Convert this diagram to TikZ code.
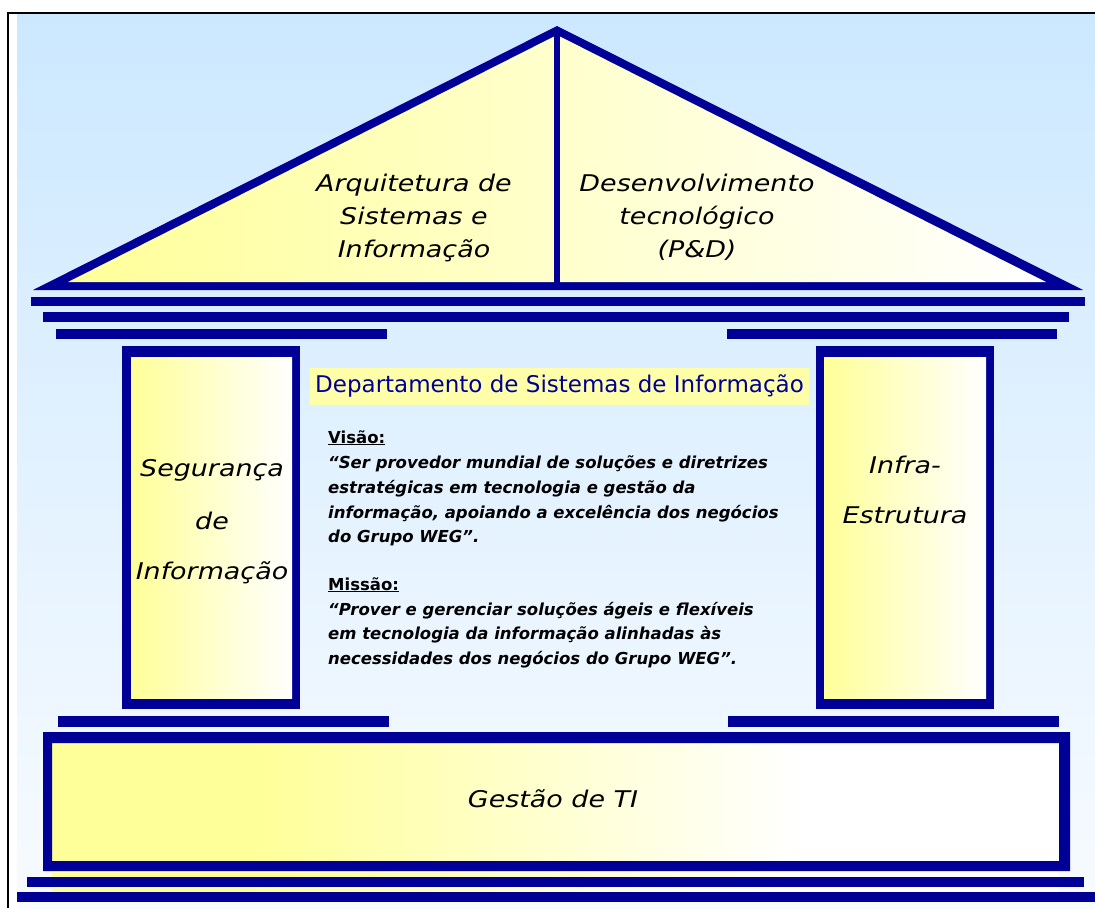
\documentclass[tikz,border=0pt]{standalone}
\usepackage{fontspec}
\setmainfont{DejaVu Sans}
\newfontfamily\lblfont[FakeStretch=1.17,ItalicFont={DejaVu Sans Oblique}]{DejaVu Sans}
\newfontfamily\txtfont[BoldFont={DejaVu Sans Bold},BoldItalicFont={DejaVu Sans Bold Oblique}]{DejaVu Sans}

\definecolor{navy}{RGB}{0,0,150}
\definecolor{pyel}{RGB}{255,255,153}
\definecolor{skytop}{RGB}{204,232,255}
\definecolor{skybot}{RGB}{248,251,255}
\definecolor{headbg}{RGB}{255,255,170}

% yellow-to-white fills of the roof and of the foundation
\pgfdeclarehorizontalshading{roofsh}{100bp}{color(0bp)=(pyel); color(25bp)=(pyel); color(75bp)=(white); color(100bp)=(white)}
\pgfdeclarehorizontalshading{basesh}{100bp}{color(0bp)=(pyel); color(35bp)=(pyel); color(62bp)=(white); color(100bp)=(white)}

\tikzset{
  beam/.style={fill=navy},
  pillarfill/.style={left color=pyel, right color=white},
  lbl/.style={font=\lblfont\itshape\fontsize{23}{28}\selectfont, inner sep=0pt, anchor=base},
  body/.style={font=\txtfont\bfseries\itshape\fontsize{16.5}{25}\selectfont, inner sep=0pt, anchor=base west},
  bodyhead/.style={font=\txtfont\bfseries\fontsize{16.5}{25}\selectfont, inner sep=0pt, anchor=base west},
}

\begin{document}
\begin{tikzpicture}[x=1pt,y=-1pt]
\useasboundingbox (0,0) rectangle (1095,908);

% sky behind the building
\shade[top color=skytop, bottom color=skybot] (17,14) rectangle (1095,908);
% frame
\draw[line width=2pt] (8,908) -- (8,13) -- (1095,13);

% roof
\fill[navy] (33,290) -- (557,26) -- (1083,290) -- cycle;
\shade[shading=roofsh] (68,282) -- (557,35) -- (1046,282) -- cycle;
\fill[navy] (554,30) rectangle (560,284);

% cornice
\path[beam] (31,297) rectangle (1085,306);
\path[beam] (43,312) rectangle (1069,322);
\path[beam] (56,329) rectangle (387,339);
\path[beam] (727,329) rectangle (1057,339);

% pillars
\path[beam] (122,346) rectangle (300,709);
\shade[pillarfill] (131,357) rectangle (292,698);
\path[beam] (816,346) rectangle (994,709);
\shade[pillarfill] (824,357) rectangle (986,698);

% plinths
\path[beam] (58,716) rectangle (389,727);
\path[beam] (728,716) rectangle (1059,727);

% foundation
\shade[shading=basesh] (52,743) rectangle (1059,893);
\fill[navy, even odd rule] (43,732) rectangle (1070,871) (52,743) rectangle (1059,861);
\path[beam] (27,877) rectangle (1084,887);
\path[beam] (17,892) rectangle (1095,902);

% roof labels
\node[lbl] (arq1) at (414,191) {Arquitetura de};
\node[lbl] (arq2) at (414,224) {Sistemas e};
\node[lbl] (arq3) at (414,257) {Informação};
\node[lbl] (des1) at (697,191) {Desenvolvimento};
\node[lbl] (des2) at (697,224) {tecnológico};
\node[lbl] (des3) at (697,257) {(P\&D)};

% pillar labels
\node[lbl] (seg1) at (212,476) {Segurança};
\node[lbl] (seg2) at (212,529) {de};
\node[lbl] (seg3) at (212,579) {Informação};
\node[lbl] (inf1) at (905,473) {Infra-};
\node[lbl] (inf2) at (905,523) {Estrutura};

% foundation label
\node[lbl] (gti) at (553,807) {Gestão de TI};

% department title
\node[fill=headbg, text=navy, inner sep=0pt, minimum width=499pt, minimum height=37pt,
      text height=17pt, text depth=5pt, font=\fontsize{23}{28}\selectfont] (dept) at (559.5,386.5)
      {Departamento de Sistemas de Informação};

% vision and mission
\node[bodyhead] (vis) at (328,443) {\underline{Visão:}};
\node[body] (vis1) at (328,468) {“Ser provedor mundial de soluções e diretrizes};
\node[body] (vis2) at (328,493) {estratégicas em tecnologia e gestão da};
\node[body] (vis3) at (328,518) {informação, apoiando a excelência dos negócios};
\node[body] (vis4) at (328,542) {do Grupo WEG”.};
\node[bodyhead] (mis) at (328,590) {\underline{Missão:}};
\node[body] (mis1) at (328,615) {“Prover e gerenciar soluções ágeis e flexíveis};
\node[body] (mis2) at (328,639) {em tecnologia da informação alinhadas às};
\node[body] (mis3) at (328,664) {necessidades dos negócios do Grupo WEG”.};
\end{tikzpicture}
\end{document}
